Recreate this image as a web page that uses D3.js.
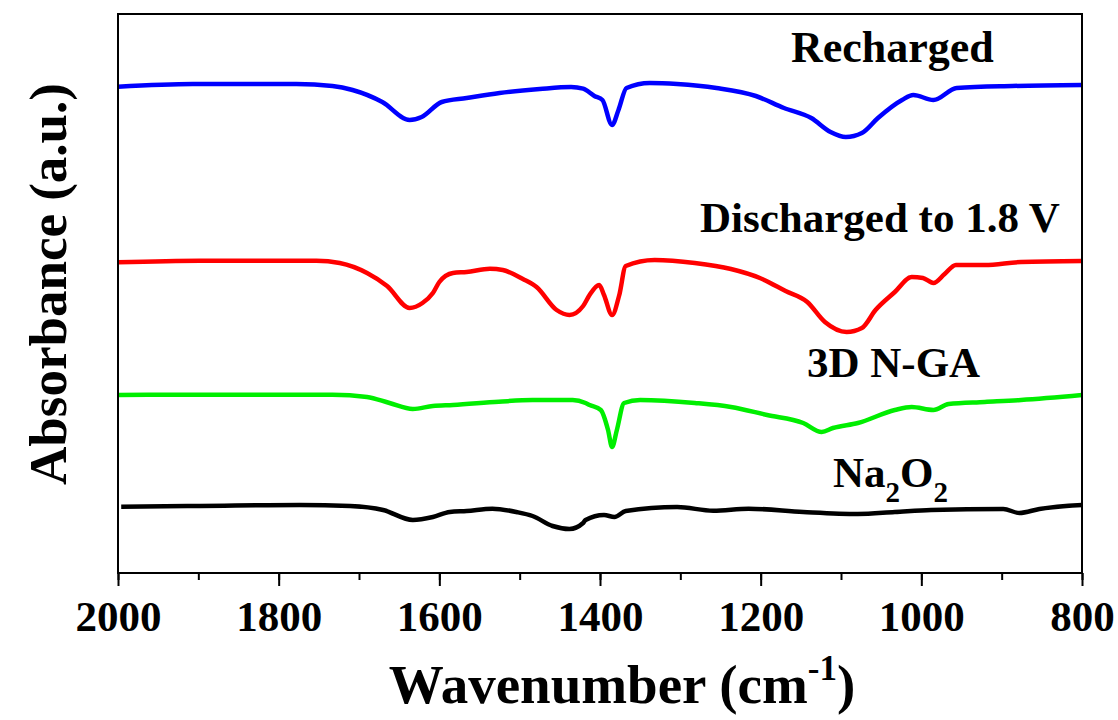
<!DOCTYPE html>
<html>
<head>
<meta charset="utf-8">
<script src="https://d3js.org/d3.v7.min.js"></script>
<style>
  body { margin: 0; background: #fff; }
  svg text { font-family: "Liberation Serif", "Times New Roman", serif; font-weight: bold; fill: #000; }
</style>
</head>
<body>
<div id="chart"></div>
<script>
// FTIR spectra, offset vertically (arbitrary absorbance units)
const rechargedWn = [2000, 1907, 1778, 1733, 1708, 1671, 1637, 1622, 1597, 1566, 1525, 1475, 1436, 1421, 1407, 1397, 1385, 1377, 1367, 1338, 1304, 1255, 1206, 1171, 1137, 1113, 1094, 1074, 1054, 1024, 1010, 985, 956, 887, 800];
const rechargedAbs = [4.863, 4.89, 4.89, 4.87, 4.83, 4.71, 4.53, 4.56, 4.71, 4.75, 4.80, 4.84, 4.86, 4.843, 4.77, 4.73, 4.48, 4.63, 4.85, 4.90, 4.89, 4.85, 4.77, 4.65, 4.55, 4.41, 4.36, 4.40, 4.55, 4.73, 4.78, 4.73, 4.85, 4.87, 4.88];

const dischargedWn = [2000, 1898, 1753, 1724, 1690, 1665, 1637, 1621, 1608, 1600, 1583, 1566, 1537, 1521, 1496, 1479, 1454, 1438, 1421, 1413, 1401, 1395, 1385, 1376, 1368, 1332, 1282, 1237, 1201, 1169, 1142, 1120, 1093, 1074, 1057, 1033, 1012, 998, 985, 971, 957, 921, 876, 800];
const dischargedAbs = [3.107, 3.123, 3.123, 3.10, 3.00, 2.87, 2.65, 2.70, 2.80, 2.91, 3.00, 3.01, 3.043, 3.03, 2.94, 2.86, 2.63, 2.58, 2.67, 2.78, 2.88, 2.78, 2.58, 2.78, 3.07, 3.13, 3.10, 3.04, 2.95, 2.82, 2.71, 2.51, 2.41, 2.45, 2.63, 2.81, 2.96, 2.95, 2.90, 2.99, 3.08, 3.08, 3.11, 3.12];

const ngaWn = [2000, 1898, 1733, 1690, 1662, 1633, 1608, 1583, 1526, 1484, 1434, 1418, 1413, 1399, 1390, 1385, 1379, 1370, 1350, 1282, 1237, 1192, 1147, 1124, 1110, 1079, 1033, 1012, 985, 966, 921, 876, 800];
const ngaAbs = [1.78, 1.783, 1.783, 1.76, 1.70, 1.64, 1.67, 1.68, 1.713, 1.73, 1.73, 1.70, 1.68, 1.63, 1.43, 1.26, 1.43, 1.70, 1.73, 1.70, 1.66, 1.58, 1.50, 1.41, 1.45, 1.50, 1.63, 1.66, 1.63, 1.69, 1.71, 1.73, 1.78];

const na2o2Wn = [1996, 1898, 1774, 1711, 1670, 1633, 1608, 1587, 1566, 1534, 1504, 1484, 1459, 1438, 1421, 1418, 1395, 1382, 1368, 1304, 1259, 1215, 1147, 1079, 1033, 988, 898, 878, 853, 800];
const na2o2Abs = [0.663, 0.67, 0.68, 0.67, 0.63, 0.53, 0.56, 0.61, 0.62, 0.643, 0.61, 0.57, 0.47, 0.44, 0.50, 0.53, 0.58, 0.56, 0.62, 0.66, 0.623, 0.643, 0.61, 0.59, 0.61, 0.63, 0.64, 0.60, 0.64, 0.68];

const seriesNames = ["Recharged", "Discharged to 1.8 V", "3D N-GA", "Na2O2"];
const seriesColors = ["#0000ff", "#ff0000", "#00ee00", "#000000"];
const xTicks = [2000, 1800, 1600, 1400, 1200, 1000, 800];

const series = [
  { name: seriesNames[0], color: seriesColors[0], wn: rechargedWn, abs: rechargedAbs },
  { name: seriesNames[1], color: seriesColors[1], wn: dischargedWn, abs: dischargedAbs },
  { name: seriesNames[2], color: seriesColors[2], wn: ngaWn, abs: ngaAbs },
  { name: seriesNames[3], color: seriesColors[3], wn: na2o2Wn, abs: na2o2Abs }
];

const width = 1118, height = 720;
const margin = { top: 14, right: 36, bottom: 147, left: 118 };

const svg = d3.select("#chart").append("svg")
  .attr("width", width)
  .attr("height", height);

const x = d3.scaleLinear().domain([2000, 800]).range([margin.left, width - margin.right]);
const y = d3.scaleLinear().domain([0, 5.59]).range([height - margin.bottom, margin.top]);

// curves
const line = d3.line()
  .x(d => x(d[0]))
  .y(d => y(d[1]))
  .curve(d3.curveMonotoneX);

series.forEach(s => {
  svg.append("path")
    .datum(d3.zip(s.wn, s.abs))
    .attr("fill", "none")
    .attr("stroke", s.color)
    .attr("stroke-width", 4.5)
    .attr("stroke-linejoin", "round")
    .attr("d", line);
});

// frame
svg.append("rect")
  .attr("x", margin.left)
  .attr("y", margin.top)
  .attr("width", width - margin.left - margin.right)
  .attr("height", height - margin.top - margin.bottom)
  .attr("fill", "none")
  .attr("stroke", "#000")
  .attr("stroke-width", 2);

// bottom axis: major + minor ticks
const xAxis = svg.append("g")
  .attr("transform", `translate(0,${height - margin.bottom})`);

xAxis.call(d3.axisBottom(x).tickValues(d3.range(800, 2001, 100)).tickSize(7).tickFormat(""))
  .call(g => g.select(".domain").remove())
  .call(g => g.selectAll("line").attr("stroke-width", 2));

xAxis.append("g")
  .call(d3.axisBottom(x).tickValues(xTicks).tickSize(13).tickPadding(14).tickFormat(d3.format("d")))
  .call(g => g.select(".domain").remove())
  .call(g => g.selectAll("line").attr("stroke-width", 2))
  .call(g => g.selectAll("text")
    .attr("font-size", 43)
    .attr("font-family", "Liberation Serif, Times New Roman, serif")
    .attr("font-weight", "bold")
    .attr("fill", "#000"));

// axis titles
const xTitle = svg.append("text")
  .attr("x", 622)
  .attr("y", 703)
  .attr("text-anchor", "middle")
  .attr("font-size", 55);
xTitle.append("tspan").text("Wavenumber (cm");
xTitle.append("tspan").attr("font-size", 35).attr("dy", -23).text("-1");
xTitle.append("tspan").attr("dy", 23).text(")");

svg.append("text")
  .attr("transform", "translate(66,284) rotate(-90)")
  .attr("text-anchor", "middle")
  .attr("font-size", 53)
  .text("Absorbance (a.u.)");

// curve labels
const labelPos = [[791, 62], [700, 232], [807, 377], [833, 487]];
svg.append("text").attr("x", labelPos[0][0]).attr("y", labelPos[0][1]).attr("font-size", 44).text(seriesNames[0]);
svg.append("text").attr("x", labelPos[1][0]).attr("y", labelPos[1][1]).attr("font-size", 43).text(seriesNames[1]);
svg.append("text").attr("x", labelPos[2][0]).attr("y", labelPos[2][1]).attr("font-size", 43).text(seriesNames[2]);

const naLabel = svg.append("text").attr("x", labelPos[3][0]).attr("y", labelPos[3][1]).attr("font-size", 43);
naLabel.append("tspan").text("Na");
naLabel.append("tspan").attr("font-size", 29).attr("dy", 15).text("2");
naLabel.append("tspan").attr("dy", -15).text("O");
naLabel.append("tspan").attr("font-size", 29).attr("dy", 15).text("2");
</script>
</body>
</html>
